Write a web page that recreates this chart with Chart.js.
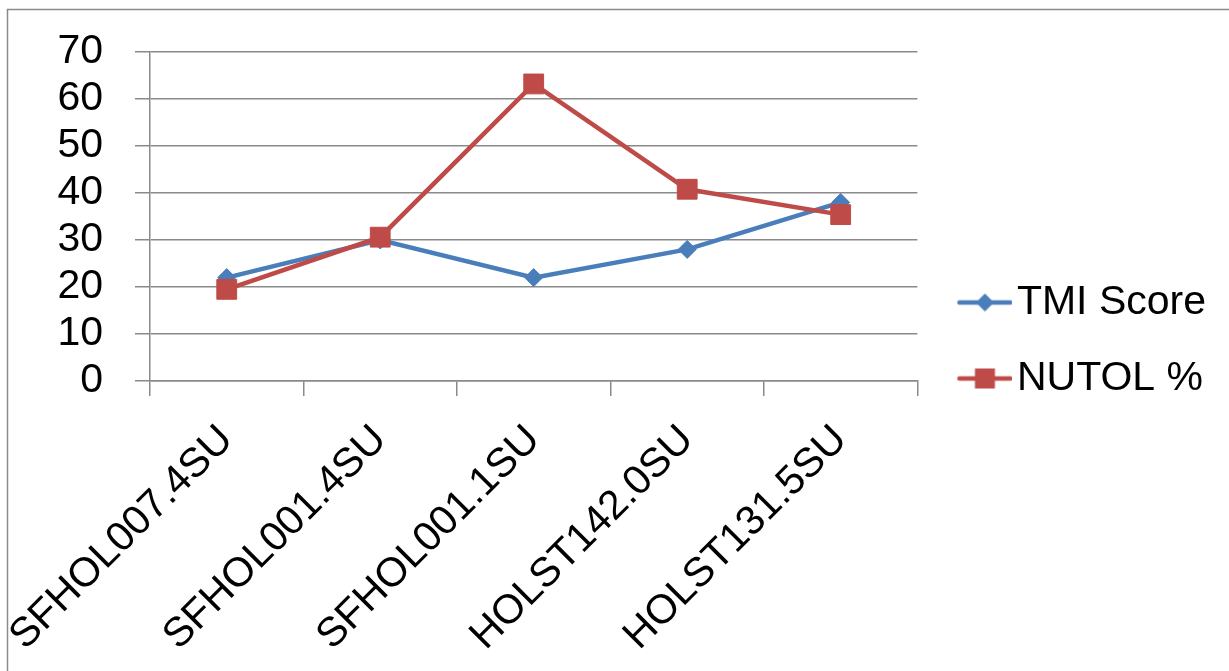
<!DOCTYPE html>
<html>
<head>
<meta charset="utf-8">
<script src="https://cdn.jsdelivr.net/npm/chart.js@4"></script>
<style>
  html, body { margin: 0; padding: 0; background: #fff; }
  #wrap { width: 1229px; height: 671px; }
</style>
</head>
<body>
<div id="wrap"><canvas id="chart_tmiNutol"></canvas></div>
<script>
var categories = ['SFHOL007.4SU', 'SFHOL001.4SU', 'SFHOL001.1SU', 'HOLST142.0SU', 'HOLST131.5SU'];
var tmiScore = [22, 30, 22, 28, 38];
var nutolPct = [19.5, 30.6, 63.2, 40.8, 35.4];
var yTicks = [0, 10, 20, 30, 40, 50, 60, 70];

var BLUE = '#4a7ebb';
var RED = '#be4b48';
var FONT = "'Liberation Sans', Arial, sans-serif";

// legend symbol: short line with the marker in the middle
function legendSymbol(color, shape) {
    var c = document.createElement('canvas');
    c.width = 76; c.height = 24;
    var g = c.getContext('2d');
    g.strokeStyle = color;
    g.lineWidth = 4.5;
    g.lineCap = 'round';
    g.beginPath(); g.moveTo(23, 12); g.lineTo(74, 12); g.stroke();
    g.fillStyle = color;
    var cx = 48.5;
    if (shape === 'diamond') {
        g.beginPath();
        g.moveTo(cx - 9, 12); g.lineTo(cx, 3); g.lineTo(cx + 9, 12); g.lineTo(cx, 21);
        g.closePath(); g.fill();
    } else {
        g.fillRect(cx - 10, 2, 20, 20);
    }
    return c;
}
var legendSymbols = [legendSymbol(BLUE, 'diamond'), legendSymbol(RED, 'square')];

var chart_tmiNutol = new Chart(document.getElementById('chart_tmiNutol'), {
    type: 'line',
    data: {
        labels: categories,
        datasets: [
            {
                label: 'TMI Score',
                data: tmiScore,
                borderColor: BLUE,
                backgroundColor: BLUE,
                borderWidth: 4.5,
                pointStyle: 'rectRot',
                pointRadius: 9,
                pointBorderWidth: 1,
                order: 1
            },
            {
                label: 'NUTOL %',
                data: nutolPct,
                borderColor: RED,
                backgroundColor: RED,
                borderWidth: 4.5,
                pointStyle: 'rect',
                pointRadius: 14,
                pointBorderWidth: 1,
                order: 0
            }
        ]
    },
    options: {
        animation: false,
        responsive: true,
        maintainAspectRatio: false,
        layout: {
            padding: { left: 7, top: 52, right: 13, bottom: 42 }
        },
        elements: { line: { tension: 0 } },
        plugins: {
            title: { display: false },
            tooltip: { enabled: false },
            legend: {
                position: 'right',
                labels: {
                    usePointStyle: true,
                    pointStyleWidth: 44,
                    padding: 35,
                    color: '#000',
                    font: { family: FONT, size: 41 },
                    sort: function (a, b) { return a.datasetIndex - b.datasetIndex; },
                    generateLabels: function (chart) {
                        var items = Chart.defaults.plugins.legend.labels.generateLabels(chart);
                        items.forEach(function (it) { it.pointStyle = legendSymbols[it.datasetIndex]; });
                        return items;
                    }
                }
            }
        },
        scales: {
            x: {
                type: 'category',
                offset: true,
                grid: {
                    offset: true,
                    drawOnChartArea: false,
                    drawTicks: true,
                    tickLength: 15,
                    color: '#8a8a8a',
                    lineWidth: 1.5
                },
                border: { display: true, color: '#8a8a8a', width: 1.5 },
                ticks: {
                    minRotation: 45,
                    maxRotation: 45,
                    autoSkip: false,
                    padding: 20,
                    color: '#000',
                    font: { family: FONT, size: 41 }
                },
                afterFit: function (scale) {
                    scale.height = 671 - 42 - 381;
                    scale.paddingLeft = 0;
                    scale.paddingRight = 0;
                }
            },
            y: {
                type: 'linear',
                min: 0,
                max: 70,
                afterBuildTicks: function (scale) {
                    scale.ticks = yTicks.map(function (v) { return { value: v }; });
                },
                grid: {
                    drawTicks: true,
                    tickLength: 15,
                    color: '#8a8a8a',
                    lineWidth: 1.5
                },
                border: { display: true, color: '#8a8a8a', width: 1.5 },
                ticks: {
                    autoSkip: false,
                    padding: 32,
                    color: '#000',
                    font: { family: FONT, size: 41 }
                },
                afterFit: function (scale) {
                    scale.width = 150 - 7;
                    scale.paddingTop = 0;
                    scale.paddingBottom = 0;
                }
            }
        }
    },
    plugins: [{
        id: 'frame',
        beforeDraw: (chart) => {
            const ctx = chart.ctx;
            ctx.save();
            ctx.fillStyle = 'white';
            ctx.fillRect(0, 0, chart.width, chart.height);
            ctx.strokeStyle = '#8a8a8a';
            ctx.lineWidth = 1.5;
            ctx.beginPath();
            ctx.moveTo(7.5, chart.height);
            ctx.lineTo(7.5, 9.5);
            ctx.lineTo(chart.width, 9.5);
            ctx.stroke();
            ctx.restore();
        }
    }, {
        // let the rotated category labels run down to the canvas edge
        id: 'labelRoom',
        afterLayout: (chart) => {
            chart.scales.x.bottom = chart.height;
        }
    }]
});
</script>
</body>
</html>
